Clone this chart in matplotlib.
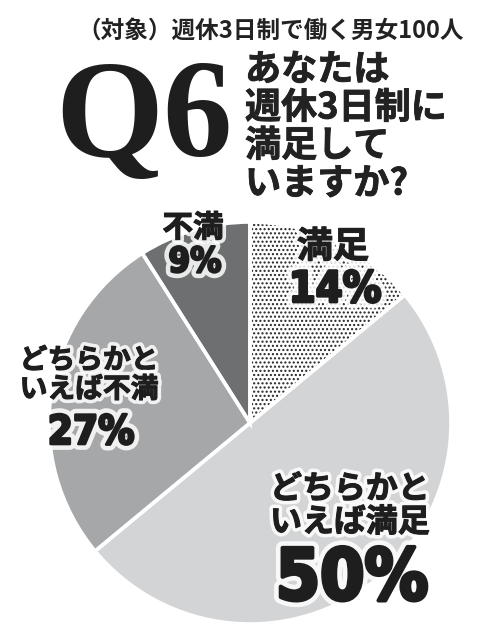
import matplotlib
matplotlib.use('Agg')
import matplotlib.pyplot as plt
import matplotlib.patheffects as pe
from matplotlib import font_manager as fm

# ---- data ----
categories = ['満足', 'どちらかと\nいえば満足', 'どちらかと\nいえば不満', '不満']
values = [14, 50, 27, 9]
slice_colors = ['white', '#d3d4d5', '#a6a7a9', '#6e6f71']
title = '（対象）週休3日制で働く男女100人'
q_label = 'Q6'
question_lines = ['あなたは', '週休3日制に', '満足して', 'いますか?']

W, H = 503, 640
JP = ['Noto Sans CJK JP', 'DejaVu Sans']
SERIF = ['Liberation Serif', 'DejaVu Serif']
INK = '#1e1e1e'


def _weight(w):
    if isinstance(w, int):
        return w
    return {'bold': 700, 'heavy': 900, 'black': 900, 'normal': 400,
            'regular': 400, 'medium': 500, 'semibold': 600}.get(str(w).lower(), 400)


def find_narrow():
    best = None
    for f in fm.fontManager.ttflist:
        n = f.name.lower()
        p = f.fname.lower()
        st = f.stretch
        cond = ('narrow' in n or 'condensed' in n or 'narrow' in p or 'condensed' in p
                or st in ('condensed', 'semi-condensed', 'extra-condensed', 'ultra-condensed')
                or (isinstance(st, int) and st < 500))
        if not cond or ('serif' in n and 'sans' not in n) or 'mono' in n:
            continue
        w = max(_weight(f.weight), 700 if 'bold' in p else 0)
        score = (w >= 700, 'oblique' not in p and 'italic' not in p, -abs(w - 700))
        if best is None or score > best[0]:
            best = (score, f.fname, w)
    return best


narrow = find_narrow()
if narrow:
    PCT_FP = dict(fontproperties=fm.FontProperties(fname=narrow[1]))
    pct_scale = 1.0
else:
    PCT_FP = dict(family=['Liberation Sans', 'DejaVu Sans'], fontweight='bold')
    pct_scale = 0.86

fig = plt.figure(figsize=(W / 100, H / 100), dpi=100)
fig.patch.set_facecolor('white')


def px(x, y):
    return x / W, 1 - y / H


# ---- pie ----
cx, cy, r = 250, 423, 201
ax = fig.add_axes([(cx - r) / W, (H - cy - r) / H, 2 * r / W, 2 * r / H])
wedges, _ = ax.pie(values, colors=slice_colors, startangle=90, counterclock=False,
                   radius=1, wedgeprops=dict(linewidth=0))
wedges[0].set_hatch('....')
wedges[0].set_edgecolor('#222222')
wedges[0].set_linewidth(0)
ax.pie(values, colors=['none'] * len(values), startangle=90, counterclock=False,
       radius=1, wedgeprops=dict(edgecolor='white', linewidth=2.6, fill=False))
ax.set_xlim(-1.0, 1.0)
ax.set_ylim(-1.0, 1.0)
ax.set_aspect('equal')
ax.axis('off')

# ---- header ----
fig.text(*px(271, 31), title, family=JP, fontsize=17, fontweight='bold',
         ha='center', va='center', color='#222222')
fig.text(*px(55, 156), q_label, family=SERIF, fontsize=100, fontweight='bold',
         ha='left', va='baseline', color=INK)
q_y = [70, 108, 146, 184]
for line, y in zip(question_lines, q_y):
    fig.text(*px(245, y), line, family=JP, fontsize=26, fontweight='bold',
             ha='left', va='center', color='#222222',
             path_effects=[pe.Stroke(linewidth=0.6, foreground='#222222'), pe.Normal()])

# ---- slice labels ----
# (name center x, name center y, name size, pct center y, pct size)
label_style = [
    (333, 247, 26, 290, 31),
    (350, 506, 23, 580, 51),
    (89, 375, 20, 433, 29),
    (193, 228, 22, 262, 25),
]
for name, v, (lx, ly, ls, py, ps) in zip(categories, values, label_style):
    fig.text(*px(lx, ly), name, family=JP, fontsize=ls, fontweight='bold',
             ha='center', va='center', color=INK, linespacing=1.05,
             path_effects=[pe.Stroke(linewidth=6, foreground='white', alpha=0.85),
                           pe.Stroke(linewidth=0.8, foreground=INK), pe.Normal()])
    t = fig.text(*px(lx + 2, py), f'{v}%', ha='center', va='center', color=INK,
                 path_effects=[pe.Stroke(linewidth=7 + ps * 0.05, foreground='white', alpha=0.85),
                               pe.Stroke(linewidth=0.6 + ps * 0.045, foreground=INK),
                               pe.Normal()],
                 **PCT_FP)
    t.set_fontsize(ps * pct_scale)

fig.savefig('out.png', dpi=100, facecolor='white')
